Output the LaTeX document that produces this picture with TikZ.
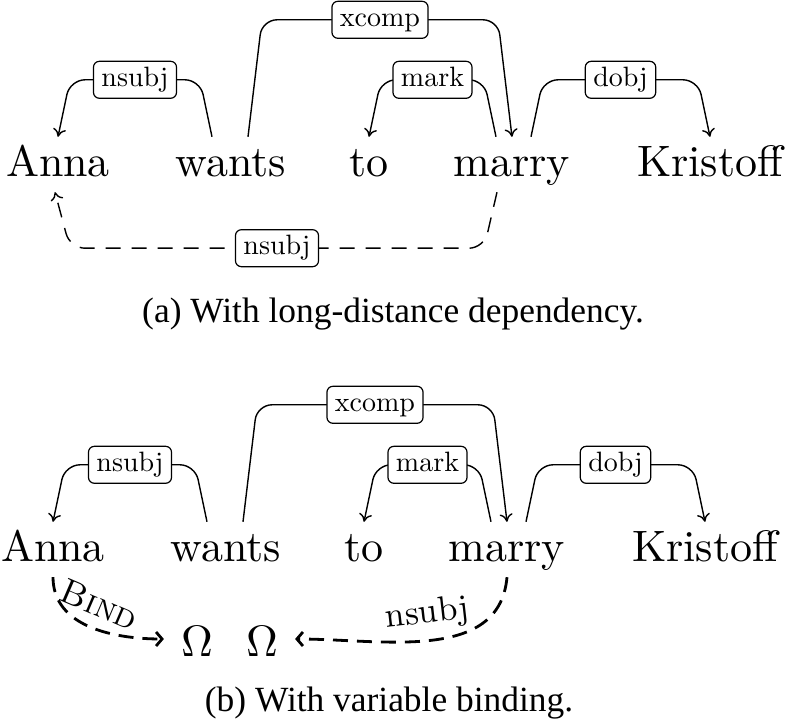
\documentclass[tikz,border=0pt]{standalone}
\usepackage{fontspec}
\setmainfont{lmroman10-regular.otf}[SmallCapsFont=lmromancaps10-regular.otf]
\newfontfamily\capfont{Liberation Serif}
\usetikzlibrary{arrows.meta}
\tikzset{
  word/.style={font=\fontsize{44}{50}\selectfont,inner sep=0pt,
               text height=40pt,text depth=15pt,anchor=base},
  omega/.style={word,text height=36pt,text depth=0pt,inner xsep=17pt},
  dep/.style={-{To[length=8pt,width=13pt]},line width=1.4pt,rounded corners=15pt},
  deplong/.style={dep,dash pattern=on 15pt off 11pt},
  deplabel/.style={draw,solid,fill=white,line width=1.2pt,rounded corners=6pt,
                   font=\fontsize{28}{32}\selectfont,inner xsep=8pt,inner ysep=6pt,
                   text height=19pt,text depth=6pt},
  bind/.style={-{Straight Barb[length=6pt,width=14pt]},line width=2.8pt,
               dash pattern=on 15pt off 9pt},
  bindlabel/.style={font=\fontsize{35}{40}\selectfont,sloped,above,inner sep=11pt},
  caption/.style={font=\capfont\fontsize{35.4}{42}\selectfont,anchor=base},
}
\newcommand{\depsentence}[3]{%
  \begin{scope}[shift={(#1,#2)}]
    \node[word] (anna#3) at (58,546) {Anna};
    \node[word] (wants#3) at (231,546) {wants};
    \node[word] (to#3) at (369,546) {to};
    \node[word] (marry#3) at (512,546) {marry};
    \node[word] (kristoff#3) at (710,546) {Kristoff};
    \draw[dep] ([xshift=-19pt]wants#3.north) -- ++(-12,57)
      -- node[deplabel] {nsubj} ([xshift=12pt,yshift=57pt]anna#3.north) -- (anna#3.north);
    \draw[dep] ([xshift=17pt]wants#3.north) -- ++(14,117)
      -- node[deplabel] {xcomp} ([xshift=-14pt,yshift=117pt]marry#3.north) -- (marry#3.north);
    \draw[dep] ([xshift=-16pt]marry#3.north) -- ++(-12,57)
      -- node[deplabel] {mark} ([xshift=12pt,yshift=57pt]to#3.north) -- (to#3.north);
    \draw[dep] ([xshift=19pt]marry#3.north) -- ++(12,57)
      -- node[deplabel] {dobj} ([xshift=-12pt,yshift=57pt]kristoff#3.north) -- (kristoff#3.north);
  \end{scope}%
}

\begin{document}
\begin{tikzpicture}[x=1pt,y=1pt]
  \useasboundingbox (0,0) rectangle (788,723);

  \depsentence{0}{0}{A}
  \draw[deplong] ([xshift=-15pt]marryA.south) -- ++(-13,-56)
    -- node[deplabel] {nsubj} ([xshift=12pt,yshift=-56pt]annaA.south) -- ([xshift=-3pt]annaA.south);
  \node[caption] (capA) at (393,400) {(a) With long-distance dependency.};

  \depsentence{-5}{-385}{B}
  \node[omega] (omegaL) at (197,66) {Ω};
  \node[omega] (omegaR) at (262,66) {Ω};
  \draw[bind] (annaB.south) to[out=-90,in=180]
    node[bindlabel,pos=0.5] {\textsc{Bind}} (omegaL.west);
  \draw[bind] (marryB.south) to[out=-95,in=0]
    node[bindlabel,pos=0.5,inner sep=9pt] {nsubj} (omegaR.east);
  \node[caption] (capB) at (389,11) {(b) With variable binding.};
\end{tikzpicture}
\end{document}
